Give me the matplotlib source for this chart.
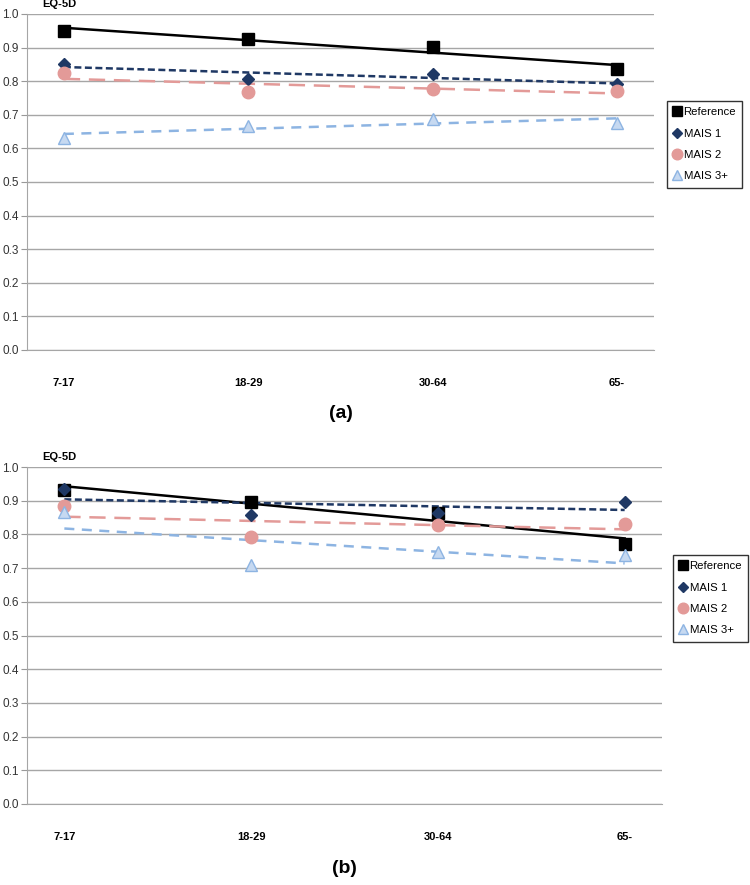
import numpy as np
import matplotlib
matplotlib.use('Agg')
import matplotlib.pyplot as plt
from matplotlib.lines import Line2D

plt.rcParams['font.family'] = ['Liberation Sans', 'DejaVu Sans']

### data --------------------------------------------------------------
ages   = ['7-17', '18-29', '30-64', '65-']
series = ['Reference', 'MAIS 1', 'MAIS 2', 'MAIS 3+']

ref_a   = [0.950, 0.927, 0.902, 0.835]
mais1_a = [0.852, 0.806, 0.820, 0.793]
mais2_a = [0.823, 0.769, 0.777, 0.772]
mais3_a = [0.632, 0.668, 0.688, 0.677]

ref_b   = [0.932, 0.896, 0.863, 0.771]
mais1_b = [0.934, 0.858, 0.864, 0.897]
mais2_b = [0.885, 0.791, 0.828, 0.831]
mais3_b = [0.867, 0.709, 0.748, 0.739]

yticks = np.arange(0, 1.01, 0.1)

### style -------------------------------------------------------------
sty = {
    'Reference': dict(c='black',   mk='s', ms=9, mfc='black',   mec='black',   ls='-',  dash=None),
    'MAIS 1':    dict(c='#1F3864', mk='D', ms=6, mfc='#1F3864', mec='#1F3864', ls='--', dash=(2.8, 1.4)),
    'MAIS 2':    dict(c='#E39A98', mk='o', ms=9, mfc='#E39A98', mec='#E39A98', ls='--', dash=(6.5, 3.5)),
    'MAIS 3+':   dict(c='#8DB4E2', mk='^', ms=8, mfc='#C6D9F1', mec='#8DB4E2', ls='--', dash=(4.0, 3.0)),
}

def panel(ax, data, label):
    x = np.arange(len(ages))
    for name, y in zip(series, data):
        s = sty[name]
        a, b = np.polyfit(x, y, 1)   # linear trend line
        ln, = ax.plot(x, a*x+b, color=s['c'], lw=1.8, ls=s['ls'], zorder=3)
        if s['dash']: ln.set_dashes(s['dash'])
        ax.plot(x, y, ls='none', marker=s['mk'], ms=s['ms'], mfc=s['mfc'],
                mec=s['mec'], mew=1, zorder=4)
    ax.set_xlim(-0.2, 3.2)
    ax.set_ylim(0, 1.0)
    ax.set_yticks(yticks)
    ax.set_yticklabels(['%.1f' % v for v in yticks], fontsize=8.5, color='#333333')
    ax.set_xticks(x)
    ax.set_xticklabels(ages, fontsize=8, fontweight='bold',
                       family=['Liberation Sans Narrow', 'Liberation Sans'])
    ax.tick_params(axis='x', length=0, pad=20)
    ax.tick_params(axis='y', length=4, color='#999999', pad=2)
    ax.grid(axis='y', color='#A6A6A6', lw=1)
    ax.set_axisbelow(True)
    for sp in ['top', 'right']:
        ax.spines[sp].set_visible(False)
    for sp in ['left', 'bottom']:
        ax.spines[sp].set_color('#A6A6A6')
    ax.text(0.024, 1.015, 'EQ-5D', transform=ax.transAxes, fontsize=8,
            fontweight='bold', va='bottom', ha='left')
    ax.text(0.5, -0.19, label, transform=ax.transAxes, fontsize=14,
            fontweight='bold', ha='center', va='center')

fig = plt.figure(figsize=(7.5, 8.85), dpi=100)
ax1 = fig.add_axes([27/750, 1-350/885, 627/750, 336/885])
ax2 = fig.add_axes([27/750, 1-804/885, 635/750, 337/885])
panel(ax1, [ref_a, mais1_a, mais2_a, mais3_a], '(a)')
panel(ax2, [ref_b, mais1_b, mais2_b, mais3_b], '(b)')

handles = [Line2D([], [], ls='none', marker=sty[n]['mk'], ms=sty[n]['ms']*0.85,
                  mfc=sty[n]['mfc'], mec=sty[n]['mec']) for n in series]
for anchor in [(667/750, 1-101/885), (673/750, 1-555/885)]:
    fig.legend(handles, series, loc='upper left', bbox_to_anchor=anchor,
               fontsize=8.2, frameon=True, fancybox=False, edgecolor='black',
               handlelength=0.7, handletextpad=0.2, borderpad=0.55,
               labelspacing=1.0, borderaxespad=0)

plt.savefig('out.png', dpi=100)
